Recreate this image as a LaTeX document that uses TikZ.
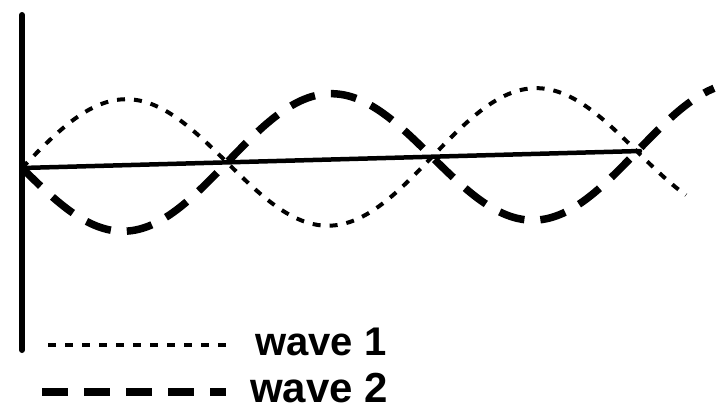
\documentclass[tikz,border=0pt]{standalone}
\usepackage{fontspec}
\setmainfont{Liberation Sans}
\usetikzlibrary{calc}

\begin{document}
\begin{tikzpicture}[x=1pt,y=-1pt,
  axis/.style={line width=4pt,line cap=round},
  wavea/.style={line width=4pt,dash pattern=on 8pt off 9pt},
  waveb/.style={line width=7.5pt,dash pattern=on 26pt off 16pt},
  lbl/.style={font=\fontsize{40}{40}\selectfont\bfseries,inner sep=0pt,anchor=base west}
]
  \useasboundingbox (0,0) rectangle (717,413);

  % Axes
  \coordinate (orig) at (22,168);
  \coordinate (ytop) at (22,15);
  \coordinate (ybot) at (22,350);
  \coordinate (xend) at (640,151);
  \draw[axis,line width=6pt] (ytop) -- (ybot);
  \draw[axis,line width=4.5pt] (orig) -- (xend);

  % Waves
  \draw[wavea] plot[domain=22:686,samples=120,smooth]
    (\x,{168-0.027*(\x-22)-66*sin(0.87805*(\x-22))});
  \draw[waveb] plot[domain=22:714,samples=120,smooth]
    (\x,{168-0.027*(\x-22)+66*sin(0.87805*(\x-22))});

  % Legend
  \node[lbl] (leg1) at (255,355) {wave 1};
  \node[lbl,font=\fontsize{42}{42}\selectfont\bfseries] (leg2) at (250,402) {wave 2};
  \coordinate (l1s) at (48,345);
  \coordinate (l2s) at (42,392);
  \draw[wavea] (l1s) -- ([xshift=-28pt]leg1.west |- l1s);
  \draw[waveb] (l2s) -- ([xshift=-24pt]leg2.west |- l2s);
\end{tikzpicture}
\end{document}
